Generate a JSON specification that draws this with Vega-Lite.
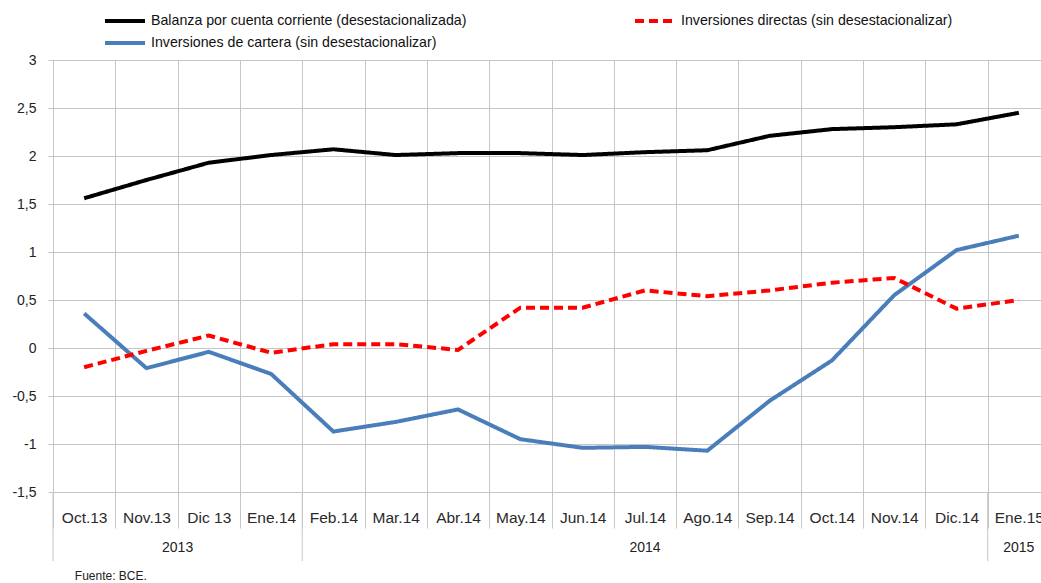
{
  "$schema": "https://vega.github.io/schema/vega-lite/v6.json",
  "width": 997,
  "height": 432,
  "autosize": {"type": "none"},
  "padding": {"left": 53, "top": 60, "right": 0, "bottom": 91},
  "background": "white",
  "config": {"view": {"stroke": null}, "font": "Liberation Sans"},
  "datasets": {
    "series": [
      {"mes": "Oct.13", "serie": "Balanza por cuenta corriente (desestacionalizada)", "valor": 1.56},
      {"mes": "Nov.13", "serie": "Balanza por cuenta corriente (desestacionalizada)", "valor": 1.75},
      {"mes": "Dic 13", "serie": "Balanza por cuenta corriente (desestacionalizada)", "valor": 1.93},
      {"mes": "Ene.14", "serie": "Balanza por cuenta corriente (desestacionalizada)", "valor": 2.01},
      {"mes": "Feb.14", "serie": "Balanza por cuenta corriente (desestacionalizada)", "valor": 2.07},
      {"mes": "Mar.14", "serie": "Balanza por cuenta corriente (desestacionalizada)", "valor": 2.01},
      {"mes": "Abr.14", "serie": "Balanza por cuenta corriente (desestacionalizada)", "valor": 2.03},
      {"mes": "May.14", "serie": "Balanza por cuenta corriente (desestacionalizada)", "valor": 2.03},
      {"mes": "Jun.14", "serie": "Balanza por cuenta corriente (desestacionalizada)", "valor": 2.01},
      {"mes": "Jul.14", "serie": "Balanza por cuenta corriente (desestacionalizada)", "valor": 2.04},
      {"mes": "Ago.14", "serie": "Balanza por cuenta corriente (desestacionalizada)", "valor": 2.06},
      {"mes": "Sep.14", "serie": "Balanza por cuenta corriente (desestacionalizada)", "valor": 2.21},
      {"mes": "Oct.14", "serie": "Balanza por cuenta corriente (desestacionalizada)", "valor": 2.28},
      {"mes": "Nov.14", "serie": "Balanza por cuenta corriente (desestacionalizada)", "valor": 2.30},
      {"mes": "Dic.14", "serie": "Balanza por cuenta corriente (desestacionalizada)", "valor": 2.33},
      {"mes": "Ene.15", "serie": "Balanza por cuenta corriente (desestacionalizada)", "valor": 2.45},
      {"mes": "Oct.13", "serie": "Inversiones de cartera (sin desestacionalizar)", "valor": 0.36},
      {"mes": "Nov.13", "serie": "Inversiones de cartera (sin desestacionalizar)", "valor": -0.21},
      {"mes": "Dic 13", "serie": "Inversiones de cartera (sin desestacionalizar)", "valor": -0.04},
      {"mes": "Ene.14", "serie": "Inversiones de cartera (sin desestacionalizar)", "valor": -0.27},
      {"mes": "Feb.14", "serie": "Inversiones de cartera (sin desestacionalizar)", "valor": -0.87},
      {"mes": "Mar.14", "serie": "Inversiones de cartera (sin desestacionalizar)", "valor": -0.77},
      {"mes": "Abr.14", "serie": "Inversiones de cartera (sin desestacionalizar)", "valor": -0.64},
      {"mes": "May.14", "serie": "Inversiones de cartera (sin desestacionalizar)", "valor": -0.95},
      {"mes": "Jun.14", "serie": "Inversiones de cartera (sin desestacionalizar)", "valor": -1.04},
      {"mes": "Jul.14", "serie": "Inversiones de cartera (sin desestacionalizar)", "valor": -1.03},
      {"mes": "Ago.14", "serie": "Inversiones de cartera (sin desestacionalizar)", "valor": -1.07},
      {"mes": "Sep.14", "serie": "Inversiones de cartera (sin desestacionalizar)", "valor": -0.55},
      {"mes": "Oct.14", "serie": "Inversiones de cartera (sin desestacionalizar)", "valor": -0.13},
      {"mes": "Nov.14", "serie": "Inversiones de cartera (sin desestacionalizar)", "valor": 0.55},
      {"mes": "Dic.14", "serie": "Inversiones de cartera (sin desestacionalizar)", "valor": 1.02},
      {"mes": "Ene.15", "serie": "Inversiones de cartera (sin desestacionalizar)", "valor": 1.17},
      {"mes": "Oct.13", "serie": "Inversiones directas (sin desestacionalizar)", "valor": -0.2},
      {"mes": "Nov.13", "serie": "Inversiones directas (sin desestacionalizar)", "valor": -0.03},
      {"mes": "Dic 13", "serie": "Inversiones directas (sin desestacionalizar)", "valor": 0.13},
      {"mes": "Ene.14", "serie": "Inversiones directas (sin desestacionalizar)", "valor": -0.05},
      {"mes": "Feb.14", "serie": "Inversiones directas (sin desestacionalizar)", "valor": 0.04},
      {"mes": "Mar.14", "serie": "Inversiones directas (sin desestacionalizar)", "valor": 0.04},
      {"mes": "Abr.14", "serie": "Inversiones directas (sin desestacionalizar)", "valor": -0.02},
      {"mes": "May.14", "serie": "Inversiones directas (sin desestacionalizar)", "valor": 0.42},
      {"mes": "Jun.14", "serie": "Inversiones directas (sin desestacionalizar)", "valor": 0.42},
      {"mes": "Jul.14", "serie": "Inversiones directas (sin desestacionalizar)", "valor": 0.6},
      {"mes": "Ago.14", "serie": "Inversiones directas (sin desestacionalizar)", "valor": 0.54},
      {"mes": "Sep.14", "serie": "Inversiones directas (sin desestacionalizar)", "valor": 0.6},
      {"mes": "Oct.14", "serie": "Inversiones directas (sin desestacionalizar)", "valor": 0.68},
      {"mes": "Nov.14", "serie": "Inversiones directas (sin desestacionalizar)", "valor": 0.73},
      {"mes": "Dic.14", "serie": "Inversiones directas (sin desestacionalizar)", "valor": 0.41},
      {"mes": "Ene.15", "serie": "Inversiones directas (sin desestacionalizar)", "valor": 0.5}
    ],
    "separadores": [
      {"mes": "Oct.13"}, {"mes": "Feb.14"}, {"mes": "Ene.15"}
    ],
    "anio2013": [{"mes": "Dic 13", "anio": "2013"}],
    "anios": [{"mes": "Jul.14", "anio": "2014"}, {"mes": "Ene.15", "anio": "2015"}],
    "fuente": [{"mes": "Oct.13", "texto": "Fuente: BCE."}]
  },
  "layer": [
    {
      "data": {"name": "series"},
      "mark": {"type": "line", "strokeWidth": 4},
      "encoding": {
        "x": {
          "field": "mes", "type": "nominal",
          "scale": {"type": "band", "domain": ["Oct.13","Nov.13","Dic 13","Ene.14","Feb.14","Mar.14","Abr.14","May.14","Jun.14","Jul.14","Ago.14","Sep.14","Oct.14","Nov.14","Dic.14","Ene.15"], "paddingInner": 0, "paddingOuter": 0},
          "axis": {
            "title": null, "tickBand": "extent", "grid": true, "gridColor": "#c6c6c6", "gridWidth": 1,
            "ticks": true, "tickSize": 36, "tickColor": "#c6c6c6", "domain": false,
            "labelPadding": -18, "labelAngle": 0, "labelFontSize": 15.5, "labelColor": "#2a2a2a"
          }
        },
        "y": {
          "field": "valor", "type": "quantitative",
          "scale": {"domain": [-1.5, 3], "nice": false, "zero": false},
          "axis": {
            "title": null, "values": [-1.5, -1, -0.5, 0, 0.5, 1, 1.5, 2, 2.5, 3],
            "grid": true, "gridColor": "#c6c6c6", "domain": false,
            "tickSize": 5, "tickColor": "#c6c6c6", "labelPadding": 12,
            "labelFontSize": 14, "labelColor": "#222222",
            "labelExpr": "(datum.value < 0 ? '-' : '') + replace(format(abs(datum.value), '~g'), '.', ',')"
          }
        },
        "color": {
          "field": "serie", "type": "nominal",
          "scale": {"domain": ["Balanza por cuenta corriente (desestacionalizada)", "Inversiones directas (sin desestacionalizar)", "Inversiones de cartera (sin desestacionalizar)"], "range": ["#000000", "#ff0000", "#4a7ebb"]},
          "legend": {"title": null, "orient": "none", "legendX": 50, "legendY": -50, "columns": 2, "direction": "horizontal", "columnPadding": 166, "rowPadding": 0, "clipHeight": 22, "symbolType": "stroke", "symbolSize": 1600, "symbolStrokeWidth": 4, "labelFontSize": 14.2, "labelColor": "#111111", "labelOffset": 4, "labelLimit": 0}
        },
        "strokeDash": {
          "field": "serie", "type": "nominal",
          "scale": {"domain": ["Balanza por cuenta corriente (desestacionalizada)", "Inversiones directas (sin desestacionalizar)", "Inversiones de cartera (sin desestacionalizar)"], "range": [[1, 0], [9, 5], [1, 0]]},
          "legend": {"title": null, "orient": "none", "legendX": 50, "legendY": -50, "columns": 2, "direction": "horizontal", "columnPadding": 166, "rowPadding": 0, "clipHeight": 22, "symbolType": "stroke", "symbolSize": 1600, "symbolStrokeWidth": 4, "labelFontSize": 14.2, "labelColor": "#111111", "labelOffset": 4, "labelLimit": 0}
        },
        "order": {"field": "serie"}
      }
    },
    {
      "data": {"name": "separadores"},
      "mark": {"type": "rule", "color": "#c6c6c6", "strokeWidth": 1},
      "encoding": {
        "x": {"field": "mes", "type": "nominal", "bandPosition": 0,
          "scale": {"type": "band", "domain": ["Oct.13","Nov.13","Dic 13","Ene.14","Feb.14","Mar.14","Abr.14","May.14","Jun.14","Jul.14","Ago.14","Sep.14","Oct.14","Nov.14","Dic.14","Ene.15"], "paddingInner": 0, "paddingOuter": 0}},
        "y": {"datum": -1.5, "type": "quantitative"},
        "y2": {"datum": -2.22}
      }
    },
    {
      "data": {"name": "anio2013"},
      "mark": {"type": "text", "fontSize": 14, "color": "#222222", "align": "center", "baseline": "middle"},
      "encoding": {
        "x": {"field": "mes", "type": "nominal", "bandPosition": 0,
          "scale": {"type": "band", "domain": ["Oct.13","Nov.13","Dic 13","Ene.14","Feb.14","Mar.14","Abr.14","May.14","Jun.14","Jul.14","Ago.14","Sep.14","Oct.14","Nov.14","Dic.14","Ene.15"], "paddingInner": 0, "paddingOuter": 0}},
        "y": {"datum": -2.08, "type": "quantitative"},
        "text": {"field": "anio"}
      }
    },
    {
      "data": {"name": "anios"},
      "mark": {"type": "text", "fontSize": 14, "color": "#222222", "align": "center", "baseline": "middle"},
      "encoding": {
        "x": {"field": "mes", "type": "nominal", "bandPosition": 0.5,
          "scale": {"type": "band", "domain": ["Oct.13","Nov.13","Dic 13","Ene.14","Feb.14","Mar.14","Abr.14","May.14","Jun.14","Jul.14","Ago.14","Sep.14","Oct.14","Nov.14","Dic.14","Ene.15"], "paddingInner": 0, "paddingOuter": 0}},
        "y": {"datum": -2.08, "type": "quantitative"},
        "text": {"field": "anio"}
      }
    },
    {
      "data": {"name": "fuente"},
      "mark": {"type": "text", "fontSize": 12, "color": "#222222", "align": "left", "baseline": "middle"},
      "encoding": {
        "x": {"field": "mes", "type": "nominal", "bandPosition": 0.35,
          "scale": {"type": "band", "domain": ["Oct.13","Nov.13","Dic 13","Ene.14","Feb.14","Mar.14","Abr.14","May.14","Jun.14","Jul.14","Ago.14","Sep.14","Oct.14","Nov.14","Dic.14","Ene.15"], "paddingInner": 0, "paddingOuter": 0}},
        "y": {"datum": -2.37, "type": "quantitative"},
        "text": {"field": "texto"}
      }
    }
  ]
}
